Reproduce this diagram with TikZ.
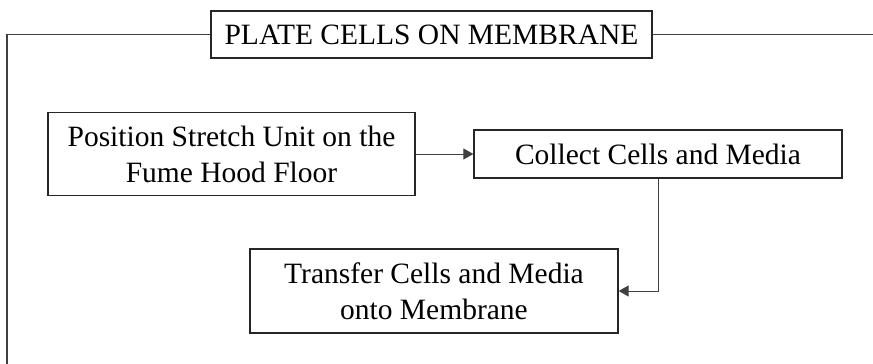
\documentclass[tikz,border=0pt]{standalone}
\usepackage{fontspec}
\setmainfont{Liberation Serif}
\usetikzlibrary{arrows.meta}
\begin{document}
\begin{tikzpicture}[x=1pt,y=-1pt,
  box/.style={draw=black!85,line width=1.3pt,inner sep=0pt,align=center,font=\fontsize{29.5}{36}\selectfont},
  conn/.style={draw=black!75,line width=1pt,-{Triangle[length=10pt,width=11pt]}},
  frameline/.style={draw=black!75,line width=1.2pt}]
\useasboundingbox (0,0) rectangle (873,364);
\node[box,minimum width=441pt,minimum height=47pt] (title) at (431.5,34.5) {PLATE CELLS ON MEMBRANE};
\coordinate (fl) at (7,34.5);
\coordinate (fr) at (873,34.5);
\coordinate (fb) at (7,364);
\draw[frameline] (title.west) -- (fl) -- (fb);
\draw[frameline] (title.east) -- (fr);
\node[box,minimum width=367pt,minimum height=83pt] (b1) at (231.5,154) {Position Stretch Unit on the\\Fume Hood Floor};
\node[box,minimum width=368pt,minimum height=48pt] (b2) at (658,154) {Collect Cells and Media};
\node[box,minimum width=368pt,minimum height=84pt] (b3) at (434,291) {Transfer Cells and Media\\onto Membrane};
\draw[conn] (b1.east) -- (b2.west);
\draw[conn] (b2.south) |- (b3.east);
\end{tikzpicture}
\end{document}
